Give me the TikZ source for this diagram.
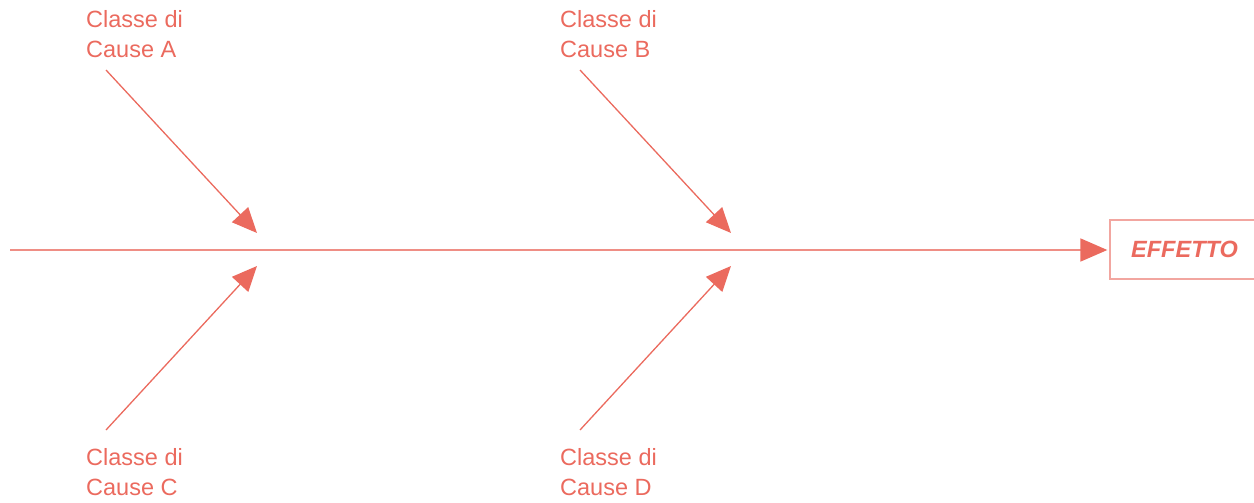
\documentclass[tikz,border=0pt]{standalone}
\usepackage{fontspec}
\setmainfont{Liberation Sans}
\usetikzlibrary{arrows.meta}
\definecolor{coral}{HTML}{EB6A5E}
\definecolor{spine}{HTML}{EF8E85}
\definecolor{boxline}{HTML}{F2A6A0}
\begin{document}
\begin{tikzpicture}[x=1pt,y=-1pt,
  causelabel/.style={anchor=north west, inner sep=0pt, align=left, text=coral,
    font=\fontsize{23.5}{30}\selectfont},
  bone/.style={draw=coral, line width=1.3pt, -{Triangle[length=25pt,width=22pt]}},
  spinearrow/.style={draw=spine, line width=1.8pt, -{Triangle[length=27pt,width=23pt,color=coral]}},
  effectbox/.style={draw=boxline, line width=1.3pt, minimum width=149pt, minimum height=59pt,
    inner sep=0pt, text=coral, font=\fontsize{23.5}{28}\selectfont\bfseries\itshape}]
  \useasboundingbox (0,0) rectangle (1254,503);
  \clip (0,0) rectangle (1254,503);

  % effect box and main spine
  \node[effectbox] (effect) at (1184.5,249.5) {EFFETTO};
  \coordinate (tail) at (10,250);
  \draw[spinearrow] (tail) -- ([xshift=-2pt]effect.west |- tail);

  % cause class labels
  \node[causelabel] (labA) at (86,10) {Classe di\\Cause A};
  \node[causelabel] (labB) at (560,10) {Classe di\\Cause B};
  \node[causelabel] (labC) at (86,448) {Classe di\\Cause C};
  \node[causelabel] (labD) at (560,448) {Classe di\\Cause D};

  % bone ends
  \coordinate (startA) at (106,70);
  \coordinate (tipA) at (257,233);
  \coordinate (startB) at (580,70);
  \coordinate (tipB) at (731,233);
  \coordinate (startC) at (106,430);
  \coordinate (tipC) at (257,266);
  \coordinate (startD) at (580,430);
  \coordinate (tipD) at (731,266);

  \draw[bone] (startA) -- (tipA);
  \draw[bone] (startB) -- (tipB);
  \draw[bone] (startC) -- (tipC);
  \draw[bone] (startD) -- (tipD);
\end{tikzpicture}
\end{document}
